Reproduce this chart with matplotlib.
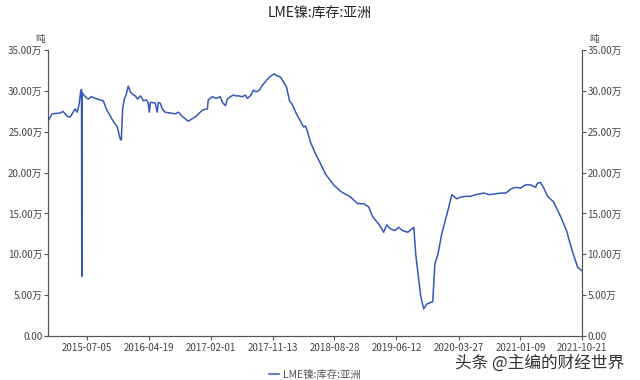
import numpy as np
import pandas as pd
import matplotlib
matplotlib.use("Agg")
import matplotlib.pyplot as plt
import matplotlib.dates as mdates
from matplotlib.ticker import FuncFormatter

plt.rcParams['font.family'] = ['Noto Sans CJK SC', 'DejaVu Sans']

# LME nickel stock, Asia (unit: 10k tonnes)
dates = [
    "2015-01-04", "2015-01-23", "2015-03-01", "2015-03-15", "2015-04-03", "2015-04-17",
    "2015-05-01", "2015-05-10", "2015-05-20", "2015-05-29", "2015-06-05", "2015-06-09",
    "2015-06-10", "2015-06-11", "2015-06-26", "2015-07-10", "2015-07-24", "2015-08-12",
    "2015-09-04", "2015-09-18", "2015-10-02", "2015-10-21", "2015-11-03", "2015-11-22",
    "2015-12-06", "2015-12-11", "2015-12-17", "2015-12-25", "2016-01-03", "2016-01-12",
    "2016-01-22", "2016-01-31", "2016-02-14", "2016-02-24", "2016-03-09", "2016-03-23",
    "2016-04-06", "2016-04-14", "2016-04-19", "2016-04-24", "2016-05-03", "2016-05-17",
    "2016-05-26", "2016-05-31", "2016-06-09", "2016-06-19", "2016-07-02", "2016-07-26",
    "2016-08-18", "2016-09-01", "2016-09-19", "2016-10-03", "2016-10-17", "2016-11-05",
    "2016-11-23", "2016-12-12", "2016-12-26", "2017-01-14", "2017-01-18", "2017-02-06",
    "2017-02-25", "2017-03-15", "2017-03-25", "2017-04-08", "2017-04-17", "2017-05-01",
    "2017-05-15", "2017-05-29", "2017-06-07", "2017-06-26", "2017-07-10", "2017-07-19",
    "2017-08-02", "2017-08-16", "2017-08-30", "2017-09-13", "2017-09-27", "2017-10-16",
    "2017-11-03", "2017-11-22", "2017-12-01", "2017-12-20", "2018-01-03", "2018-01-17",
    "2018-01-31", "2018-02-14", "2018-03-04", "2018-03-23", "2018-04-06", "2018-04-15",
    "2018-04-25", "2018-05-09", "2018-06-01", "2018-06-24", "2018-07-18", "2018-08-24",
    "2018-09-26", "2018-11-11", "2018-12-14", "2019-01-11", "2019-02-03", "2019-02-22",
    "2019-03-22", "2019-04-14", "2019-04-28", "2019-05-16", "2019-06-04", "2019-06-23",
    "2019-07-11", "2019-08-04", "2019-09-01", "2019-09-10", "2019-10-03", "2019-10-17",
    "2019-10-31", "2019-11-28", "2019-12-08", "2019-12-22", "2020-01-09", "2020-02-02",
    "2020-02-25", "2020-03-18", "2020-04-06", "2020-04-29", "2020-05-23", "2020-06-15",
    "2020-07-04", "2020-07-23", "2020-08-15", "2020-09-12", "2020-10-10", "2020-11-02",
    "2020-11-26", "2020-12-19", "2021-01-09", "2021-02-01", "2021-02-24", "2021-03-20",
    "2021-03-29", "2021-04-12", "2021-04-26", "2021-05-15", "2021-06-12", "2021-07-15",
    "2021-08-11", "2021-09-08", "2021-10-02", "2021-10-21",
]
stock = [
    26.3, 27.2, 27.3, 27.5, 26.9, 26.8,
    27.4, 27.8, 27.4, 28.4, 30.0, 30.2,
    7.3, 29.8, 29.3, 29.0, 29.3, 29.1,
    28.9, 28.8, 27.8, 26.9, 26.3, 25.6,
    24.1, 24.0, 27.8, 29.0, 29.6, 30.6,
    29.9, 29.6, 29.4, 29.0, 29.4, 28.8,
    28.9, 28.5, 27.4, 28.6, 28.6, 28.5,
    27.4, 28.6, 28.5, 27.8, 27.4, 27.3,
    27.2, 27.4, 26.9, 26.6, 26.3, 26.6,
    26.9, 27.4, 27.7, 27.8, 28.9, 29.3,
    29.1, 29.3, 28.6, 28.2, 29.0, 29.3,
    29.5, 29.4, 29.4, 29.3, 29.5, 29.1,
    29.4, 30.1, 29.9, 30.1, 30.7, 31.3,
    31.8, 32.1, 31.9, 31.7, 31.1, 30.5,
    28.8, 28.3, 27.2, 26.3, 25.6, 25.7,
    25.0, 23.7, 22.3, 21.1, 19.8, 18.5,
    17.7, 17.0, 16.2, 16.2, 15.8, 14.6,
    13.7, 12.7, 13.6, 13.1, 12.9, 13.3,
    12.9, 12.7, 13.3, 10.0, 4.9, 3.3,
    3.9, 4.2, 8.8, 10.0, 12.5, 14.9,
    17.3, 16.8, 17.0, 17.1, 17.1, 17.3,
    17.4, 17.5, 17.3, 17.4, 17.5, 17.5,
    18.0, 18.2, 18.1, 18.5, 18.5, 18.2,
    18.7, 18.8, 18.2, 17.1, 16.4, 14.6,
    12.9, 10.3, 8.4, 8.0,
]
tick_dates = ["2015-07-05", "2016-04-19", "2017-02-01", "2017-11-13", "2018-08-28",
              "2019-06-12", "2020-03-27", "2021-01-09", "2021-10-21"]
y_ticks = [0, 5, 10, 15, 20, 25, 30, 35]
title = "LME镍:库存:亚洲"

x = pd.to_datetime(dates)
xt = pd.to_datetime(tick_dates)

fig = plt.figure(figsize=(6.4, 3.8), dpi=100)
ax = fig.add_axes([0.075, 0.116, 0.834, 0.752])
line_color = "#3358b8"
ax.plot(x, stock, color=line_color, lw=1.1, label=title)

ax.set_xlim(pd.Timestamp("2015-01-04"), pd.Timestamp("2021-10-21"))
ax.set_ylim(0, 35)

fmt = FuncFormatter(lambda v, p: "0.00" if v == 0 else f"{v:.2f}万")
ax.set_yticks(y_ticks)
ax.yaxis.set_major_formatter(fmt)
ax.set_xticks(xt)
ax.set_xticklabels(tick_dates)

ax2 = ax.twinx()
ax2.set_ylim(ax.get_ylim())
ax2.set_yticks(y_ticks)
ax2.yaxis.set_major_formatter(fmt)

axis_gray = "#555555"
for a in (ax, ax2):
    a.spines["top"].set_visible(False)
    for s in ("left", "right", "bottom"):
        a.spines[s].set_color(axis_gray)
        a.spines[s].set_linewidth(0.8)
    a.tick_params(axis="y", labelsize=7, colors=axis_gray, length=3, width=0.8,
                  pad=1, labelcolor="#444444")
ax.tick_params(axis="x", labelsize=7, colors=axis_gray, length=3, width=0.8,
               pad=2, labelcolor="#444444")

ax.text(-0.005, 1.02, "吨", transform=ax.transAxes, ha="right", va="bottom",
        fontsize=7, color="#444444")
ax2.text(1.015, 1.02, "吨", transform=ax2.transAxes, ha="left", va="bottom",
         fontsize=7, color="#444444")

fig.text(0.5, 0.965, title, ha="center", va="center", fontsize=10, color="#222222")

ax.legend(loc="upper center", bbox_to_anchor=(0.5, -0.085), frameon=False,
          fontsize=7.5, handlelength=1.0, handletextpad=0.4,
          labelcolor="#555555")

fig.text(0.975, 0.045, "头条 @主编的财经世界", ha="right", va="center",
         fontsize=12, color="#333333")

fig.savefig("out.png", dpi=100)
